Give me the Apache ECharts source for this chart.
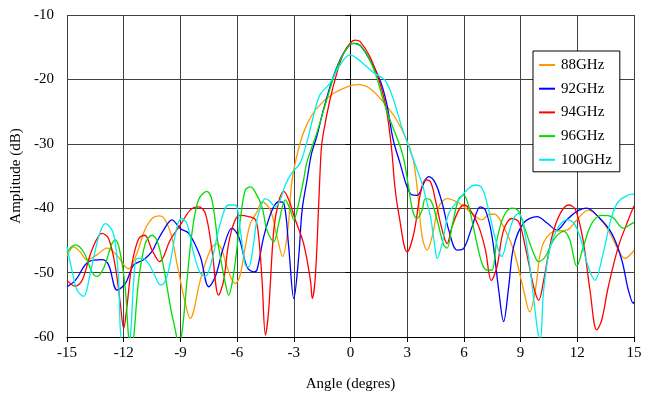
<!DOCTYPE html>
<html>
<head>
<meta charset="utf-8">
<script src="https://cdn.jsdelivr.net/npm/echarts@6/dist/echarts.min.js"></script>
<style>html,body{margin:0;padding:0;background:#fff}#c{width:648px;height:398px}</style>
</head>
<body>
<div id="c"></div>
<script>
const seriesNames = ['88GHz', '92GHz', '94GHz', '96GHz', '100GHz'];
const xTicks = [-15, -12, -9, -6, -3, 0, 3, 6, 9, 12, 15];
const yTicks = [-60, -50, -40, -30, -20, -10];

const s88 = [[-15,-47.5],[-14.65,-46.0],[-14.3,-46.8],[-13.94,-48.0],[-13.4,-47.2],[-12.88,-46.2],[-12.4,-47.2],[-11.74,-49.4],[-11.3,-47.0],[-10.9,-43.5],[-10.5,-41.6],[-10.1,-41.2],[-9.85,-41.6],[-9.5,-44],[-9.18,-48.6],[-8.8,-54],[-8.48,-57.1],[-7.95,-51.2],[-7.42,-46.5],[-7.07,-45.5],[-6.8,-46.5],[-6.54,-49.1],[-6.1,-51.7],[-5.85,-50.5],[-5.57,-46],[-5.3,-42.4],[-4.95,-40.6],[-4.68,-39.0],[-4.24,-40.3],[-3.89,-44.4],[-3.59,-47.5],[-3.3,-42.9],[-3.09,-35.6],[-2.67,-29.9],[-2.32,-27.1],[-1.79,-24.5],[-0.91,-22.2],[-0.03,-21.0],[0.41,-20.8],[1.03,-21.4],[1.73,-23.5],[2.44,-26.3],[2.97,-29.4],[3.32,-32.5],[3.55,-37.5],[3.79,-44.4],[4.05,-46.5],[4.32,-44.4],[4.67,-39.8],[5.11,-38.5],[5.73,-39.2],[6.43,-40.8],[6.96,-41.8],[7.3,-41.0],[7.6,-40.9],[8.1,-42.9],[8.63,-46.5],[9.16,-52.7],[9.48,-56.1],[9.78,-52.7],[10.13,-46],[10.75,-43.6],[11.45,-43.4],[11.98,-41.8],[12.58,-40.3],[13.1,-41.3],[13.64,-43.4],[14.17,-46.5],[14.52,-47.8],[14.88,-47],[15,-46.5]];

const s92 = [[-15,-52.2],[-14.56,-51.2],[-13.85,-48.3],[-13.15,-48.0],[-12.8,-48.8],[-12.35,-52.7],[-11.91,-51.7],[-11.47,-48.8],[-10.94,-48],[-10.5,-46.7],[-10.24,-45.2],[-9.89,-43.4],[-9.45,-41.8],[-9.0,-43.2],[-8.56,-43.9],[-7.95,-47.5],[-7.5,-52.2],[-7.15,-50.6],[-6.71,-46],[-6.27,-43.1],[-5.92,-44.4],[-5.48,-49.1],[-5.13,-49.9],[-4.95,-49.6],[-4.59,-44.4],[-4.15,-40.3],[-3.8,-39.0],[-3.53,-39.2],[-3.27,-46],[-3.0,-54.0],[-2.74,-47.5],[-2.56,-40.3],[-2.3,-35.6],[-2.06,-31.5],[-1.79,-28.9],[-1.44,-24.8],[-0.91,-19.6],[-0.38,-16],[0.15,-14.4],[0.5,-14.7],[1.03,-17],[1.56,-20.1],[1.91,-23.7],[2.26,-29.4],[2.62,-33],[2.97,-36.5],[3.26,-37.95],[3.52,-38],[3.96,-35.6],[4.14,-35.1],[4.49,-36.1],[4.85,-39.2],[5.2,-43.4],[5.64,-46.5],[6,-46.2],[6.43,-42.9],[6.87,-39.8],[7.14,-40.3],[7.49,-44.4],[7.84,-52.7],[8.1,-57.6],[8.37,-52.2],[8.63,-46],[9.16,-42.3],[9.87,-41.3],[10.4,-42.3],[10.92,-43.4],[11.45,-41.8],[11.98,-40.5],[12.5,-40],[13.1,-41.3],[13.82,-43.9],[14.35,-48],[14.7,-52.7],[14.97,-54.8],[15,-54.5]];

const s94 = [[-15,-51.2],[-14.56,-52.1],[-14.2,-51.2],[-13.68,-46.5],[-13.15,-43.9],[-12.8,-44.7],[-12.44,-49.1],[-12.18,-54.8],[-12,-58.7],[-11.83,-55.3],[-11.56,-48.6],[-11.2,-44.7],[-10.89,-44.2],[-10.5,-46.5],[-10.1,-48.3],[-9.53,-44.9],[-9,-42.6],[-8.48,-40.3],[-8.04,-39.8],[-7.68,-40.8],[-7.33,-46.5],[-6.98,-53.5],[-6.71,-51.2],[-6.45,-45.5],[-6.1,-41.8],[-5.83,-41.1],[-5.39,-41.3],[-5.03,-41.8],[-4.86,-44.4],[-4.68,-51.2],[-4.5,-59.7],[-4.33,-55.8],[-4.06,-43.4],[-3.8,-39],[-3.53,-37.4],[-3.27,-38.7],[-2.92,-41.8],[-2.48,-45.5],[-2.12,-51.2],[-2.02,-54],[-1.86,-50.6],[-1.68,-39.2],[-1.55,-31],[-1.44,-28.4],[-1.09,-23.2],[-0.73,-19.1],[-0.38,-16],[-0.03,-14.4],[0.24,-13.9],[0.5,-14.1],[1.03,-16.5],[1.56,-20.6],[1.91,-24.8],[2.18,-31],[2.35,-36.7],[2.55,-40.8],[3,-46.8],[3.35,-43.9],[3.7,-37.7],[3.96,-35.6],[4.23,-35.9],[4.49,-38.7],[4.85,-43.4],[5.11,-45.5],[5.37,-42.9],[5.73,-40.3],[6,-39.5],[6.34,-40.3],[6.79,-42.9],[7.14,-46.5],[7.45,-51.2],[7.75,-49.1],[8.1,-43.4],[8.54,-41.6],[8.9,-42.1],[9.25,-46],[9.69,-52.2],[9.96,-54.3],[10.22,-51.2],[10.66,-44.4],[11.1,-40.8],[11.54,-39.5],[11.9,-40.2],[12.3,-44.9],[12.67,-52.7],[13.03,-58.9],[13.29,-57.4],[13.64,-52.2],[14.17,-46],[14.7,-41.8],[15,-39.6]];

const s96 = [[-15,-46.8],[-14.56,-45.7],[-14.12,-46.8],[-13.68,-49.9],[-13.41,-50.6],[-13.06,-49.3],[-12.62,-45.5],[-12.44,-44.9],[-12.18,-47],[-11.91,-52.7],[-11.74,-60],[-11.6,-62],[-11.47,-60],[-11.21,-51.2],[-10.86,-45.5],[-10.5,-44.2],[-10.24,-45],[-9.89,-49.1],[-9.53,-55.3],[-9.27,-58.9],[-9.1,-61],[-8.92,-59.4],[-8.65,-51.2],[-8.39,-43.9],[-8.04,-38.7],[-7.6,-37.4],[-7.33,-38.7],[-6.98,-46],[-6.62,-51.7],[-6.45,-53.5],[-6.18,-50.1],[-5.83,-41.8],[-5.57,-37.2],[-5.3,-36.7],[-5.04,-37.5],[-4.68,-39.8],[-4.42,-43.4],[-4.06,-45.2],[-3.8,-42.4],[-3.45,-38.7],[-3.18,-40.3],[-3,-41.8],[-2.74,-39.2],[-2.48,-35.6],[-2.32,-33],[-1.79,-28.4],[-1.26,-23.2],[-0.73,-18.3],[-0.2,-15.2],[0.15,-14.4],[0.5,-14.7],[0.94,-16.5],[1.38,-19.6],[1.73,-23.2],[2.09,-26.3],[2.44,-28.9],[2.79,-32],[3.06,-36.5],[3.3,-40.5],[3.52,-41.6],[3.79,-40.3],[3.96,-38.5],[4.23,-38.7],[4.58,-41.8],[4.93,-45.7],[5.11,-46.2],[5.37,-42.9],[5.73,-38.5],[6,-38],[6.26,-39.8],[6.61,-44.4],[6.96,-48.6],[7.23,-49.6],[7.48,-49.6],[7.75,-44.9],[8.1,-41.3],[8.54,-40],[8.9,-40.5],[9.25,-43.4],[9.69,-47],[9.96,-48.3],[10.31,-47.5],[10.75,-44.9],[11.28,-43.6],[11.6,-44.9],[11.97,-49],[12.32,-46],[12.76,-42.4],[13.29,-41.1],[13.82,-41.3],[14.44,-43.1],[14.88,-42.4],[15,-42.2]];

const s100 = [[-15,-46],[-14.74,-49.6],[-14.47,-52.7],[-14.12,-53.7],[-13.77,-50.1],[-13.32,-44.4],[-12.97,-42.4],[-12.62,-43.4],[-12.44,-45.5],[-12.27,-51.2],[-12.15,-60],[-11.9,-64],[-11.65,-60],[-11.47,-51.2],[-11.3,-47.8],[-11.03,-47.8],[-10.68,-48.6],[-10.33,-50.6],[-10.06,-51.9],[-9.9,-51.8],[-9.62,-49.6],[-9.18,-42.9],[-8.92,-41.6],[-8.65,-42.4],[-8.3,-47],[-7.95,-50.1],[-7.68,-50.6],[-7.33,-48],[-6.89,-42.4],[-6.45,-39.5],[-6.1,-39.5],[-5.83,-43.4],[-5.57,-48.8],[-5.39,-49.1],[-5.13,-45.5],[-4.95,-41.8],[-4.68,-39.2],[-4.5,-38.5],[-4.24,-39],[-3.98,-39.8],[-3.71,-38.7],[-3.45,-36.4],[-3.12,-34.6],[-2.67,-33],[-2.32,-29.9],[-1.97,-25.8],[-1.62,-22.4],[-1.09,-20.6],[-0.56,-17.8],[-0.03,-16.2],[0.32,-16.7],[0.85,-18],[1.29,-19.1],[1.82,-20.1],[2.26,-23],[2.7,-27.3],[3.15,-31],[3.5,-33.8],[3.85,-36.8],[3.96,-38.2],[4.23,-41.3],[4.49,-46.5],[4.58,-47.8],[4.85,-45.5],[5.2,-40.8],[5.73,-38.7],[6.26,-36.9],[6.61,-36.4],[6.96,-36.9],[7.31,-40.3],[7.6,-44],[8.01,-47.5],[8.28,-44.9],[8.63,-41.6],[8.9,-40.8],[9.16,-42.9],[9.51,-49.6],[9.78,-56.3],[9.96,-60],[10.05,-60.5],[10.22,-52.7],[10.57,-46],[11.01,-42.9],[11.45,-41.8],[11.81,-42.3],[12.16,-44.6],[12.58,-49.1],[12.94,-51.2],[13.29,-48],[13.82,-41.3],[14.17,-39],[14.7,-37.95],[15,-37.8]];

const seriesData = [s88, s92, s94, s96, s100];
const colors = ['#FF9900', '#0000FF', '#FF0000', '#00DD00', '#00EEEE'];
const FONT = 'Liberation Serif';

const chart = echarts.init(document.getElementById('c'), null, {renderer: 'canvas'});
chart.setOption({
  animation: false,
  backgroundColor: '#fff',
  grid: {left: 67, right: 14, top: 15, bottom: 61, containLabel: false},
  legend: {
    orient: 'vertical', left: 533, top: 51,
    padding: [6, 8, 4, 6],
    backgroundColor: '#fff', borderColor: '#000', borderWidth: 1,
    itemWidth: 16, itemHeight: 2, itemGap: 7.7, icon: 'rect',
    textStyle: {fontFamily: FONT, fontSize: 15, color: '#000', lineHeight: 16, padding: [0,0,0,1]},
    data: seriesNames
  },
  xAxis: {
    type: 'value', min: xTicks[0], max: xTicks[xTicks.length-1], interval: 3,
    name: 'Angle (degres)', nameLocation: 'middle', nameGap: 40,
    nameTextStyle: {fontFamily: FONT, fontSize: 15, color: '#000'},
    axisLine: {show: true, lineStyle: {color: '#000', width: 1}},
    axisTick: {show: true, length: 5, lineStyle: {color: '#000'}},
    axisLabel: {fontFamily: FONT, fontSize: 15, color: '#000', margin: 9},
    splitLine: {show: true, lineStyle: {color: '#404040', width: 1}}
  },
  yAxis: {
    type: 'value', min: yTicks[0], max: yTicks[yTicks.length-1], interval: 10,
    name: 'Amplitude (dB)', nameLocation: 'middle', nameGap: 37, nameRotate: 90,
    nameTextStyle: {fontFamily: FONT, fontSize: 15, color: '#000'},
    axisLine: {show: true, lineStyle: {color: '#000', width: 1}},
    axisTick: {show: true, length: 5, lineStyle: {color: '#000'}},
    axisLabel: {fontFamily: FONT, fontSize: 15, color: '#000', margin: 13},
    splitLine: {show: true, lineStyle: {color: '#404040', width: 1}}
  },
  series: seriesNames.map((n, i) => ({
    name: n, type: 'line', data: seriesData[i], showSymbol: false, symbol: 'none',
    smooth: 0.35, clip: true,
    lineStyle: {color: colors[i], width: 1.3},
    itemStyle: {color: colors[i]}
  }))
});
</script>
</body>
</html>
